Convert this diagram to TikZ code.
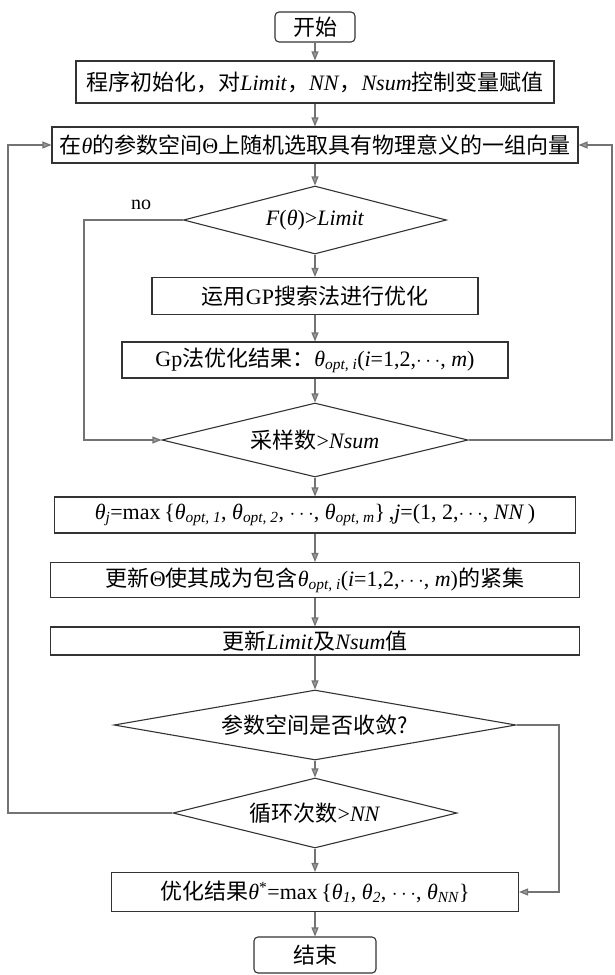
\documentclass[tikz,border=0pt]{standalone}
\usepackage{fontspec}
\setmainfont{Liberation Serif}
\newfontfamily\cjk{Noto Sans CJK SC}
\usetikzlibrary{shapes.geometric,arrows.meta}
\newcommand{\zh}[1]{{\cjk #1}}
\newcommand{\vi}[1]{\textit{#1}}
\newcommand{\sbs}[1]{\textsubscript{\itshape #1}}
\begin{document}
\begin{tikzpicture}[x=1pt,y=-1pt,
  every node/.style={font=\fontsize{22}{26}\selectfont},
  box/.style={draw=black!80, line width=1.1pt, inner sep=0pt, minimum height=36pt},
  term/.style={box, rounded corners=4pt},
  dia/.style={draw=black!80, line width=1.1pt, diamond, inner sep=0pt},
  flow/.style={draw=black!55, line width=1.2pt, -{Triangle[length=9pt,width=7pt,fill=black!40]}},
  lbl/.style={font=\fontsize{20}{24}\selectfont}]
\useasboundingbox (0,0) rectangle (615,975);
\node[term, minimum width=80pt, minimum height=30pt] (start) at (315,27) {\zh{开始}};
\node[box, minimum width=478pt, minimum height=42pt] (init) at (315,82) {\zh{程序初始化，对}\vi{Limit}\zh{，}\vi{NN}\zh{，}\vi{Nsum}\zh{控制变量赋值}};
\node[box, minimum width=526pt] (sel) at (315,145) {\zh{在}\vi{θ}\zh{的参数空间}Θ\zh{上随机选取具有物理意义的一组向量}};
\node[dia, minimum width=263pt, minimum height=68pt, aspect=3.87] (d1) at (315,220) {\vi{F}(\vi{θ})>\vi{Limit}};
\node[box, minimum width=326pt, minimum height=37pt] (gp) at (315,296) {\zh{运用}GP\zh{搜索法进行优化}};
\node[box, minimum width=386pt] (gpr) at (315,360) {Gp\zh{法优化结果：}\vi{θ}\sbs{opt, i}(\vi{i}=1,2,$\cdots$, \vi{m})};
\node[dia, minimum width=306pt, minimum height=74pt, aspect=4.1] (d2) at (315,440) {\zh{采样数}>\vi{Nsum}};
\node[box, minimum width=521pt] (tj) at (315,515) {\vi{θ}\sbs{j}=max\,\{\vi{θ}\sbs{opt, 1}, \vi{θ}\sbs{opt, 2}, $\cdots$, \vi{θ}\sbs{opt, m}\}\,,\vi{j}=(1, 2,$\cdots$, \vi{NN}\,)};
\node[box, minimum width=529pt, minimum height=35pt] (upd) at (315,580) {\zh{更新}Θ\zh{使其成为包含}\vi{θ}\sbs{opt, i}(\vi{i}=1,2,$\cdots$, \vi{m})\zh{的紧集}};
\node[box, minimum width=529pt, minimum height=28pt] (lim) at (315,641) {\zh{更新}\vi{Limit}\zh{及}\vi{Nsum}\zh{值}};
\node[dia, minimum width=402pt, minimum height=70pt, aspect=5.7] (d3) at (315,725) {\zh{参数空间是否收敛?}};
\node[dia, minimum width=284pt, minimum height=70pt, aspect=4.06] (d4) at (315,813) {\zh{循环次数}>\vi{NN}};
\node[box, minimum width=407pt, minimum height=39pt] (res) at (315,892) {\zh{优化结果}\vi{θ}\textsuperscript{*}=max\,\{\vi{θ}\sbs{1}, \vi{θ}\sbs{2}, $\cdots$, \vi{θ}\sbs{NN}\}};
\node[term, minimum width=122pt, minimum height=36pt] (end) at (315,955) {\zh{结束}};
\node[lbl] (no) at (141,205) {no};
\coordinate (L) at (8,0);
\coordinate (R) at (612,0);
\coordinate (C) at (559,0);
\coordinate (N) at (84,0);
\draw[flow] (start) -- (init);
\draw[flow] (init) -- (sel);
\draw[flow] (sel) -- (d1);
\draw[flow] (d1) -- (gp);
\draw[flow] (gp) -- (gpr);
\draw[flow] (gpr) -- (d2);
\draw[flow] (d2) -- (tj);
\draw[flow] (tj) -- (upd);
\draw[flow] (upd) -- (lim);
\draw[flow] (lim) -- (d3);
\draw[flow] (d3) -- (d4);
\draw[flow] (d4) -- (res);
\draw[flow] (res) -- (end);
\draw[flow] (d1.west) -- (d1.west -| N) |- (d2.west);
\draw[flow] (d4.west) -- (d4.west -| L) |- (sel.west);
\draw[flow] (d2.east) -- (d2.east -| R) |- (sel.east);
\draw[flow] (d3.east) -- (d3.east -| C) |- (res.east);
\end{tikzpicture}
\end{document}
